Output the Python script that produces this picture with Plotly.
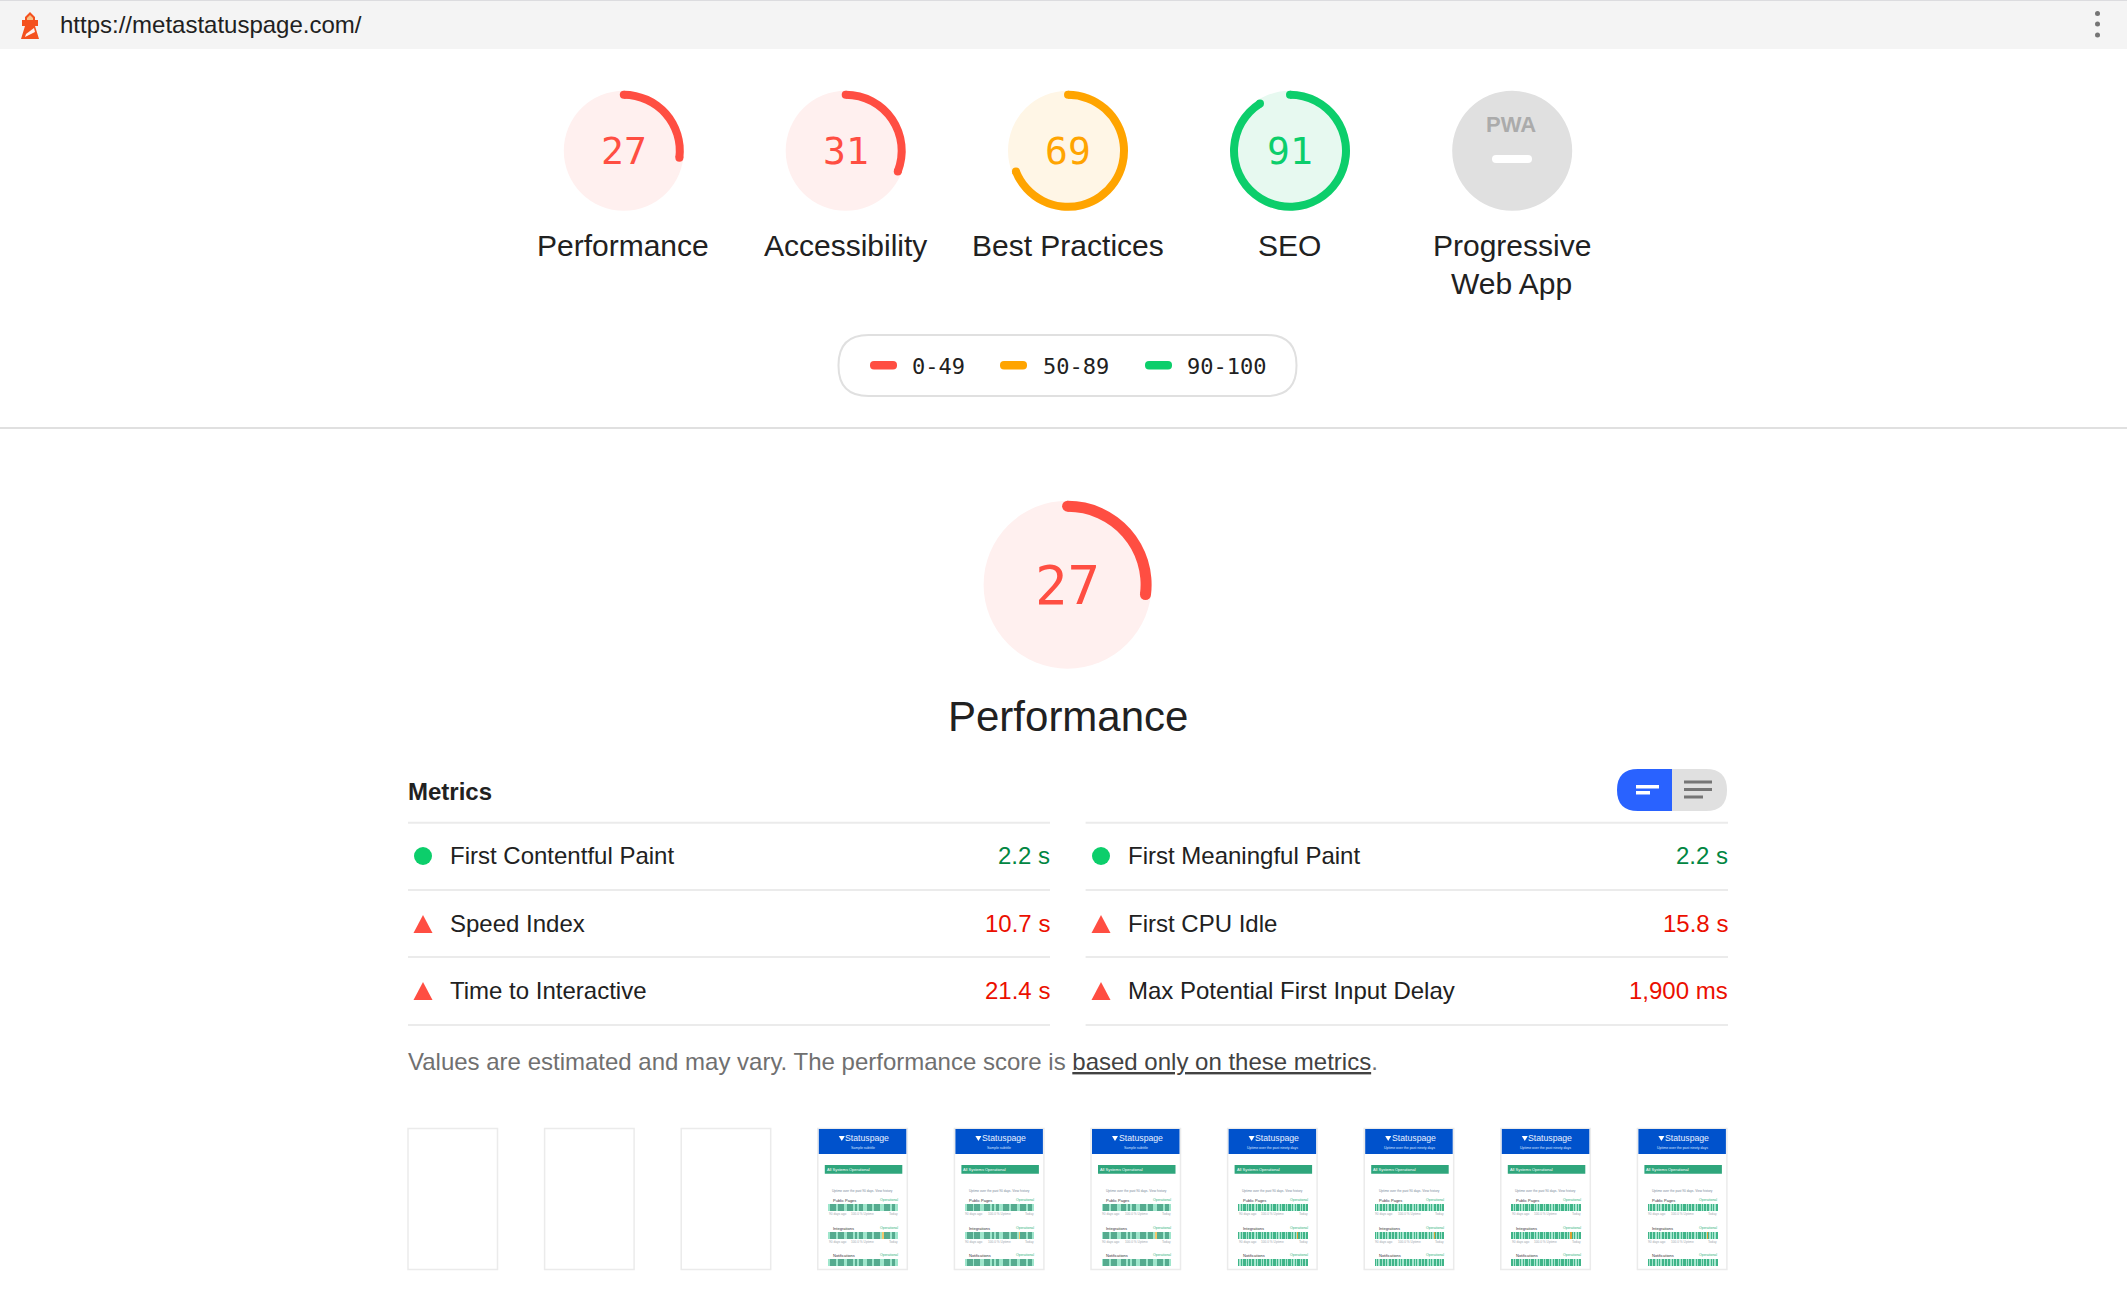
import plotly.graph_objects as go
import numpy as np

WIDTH = 2127
HEIGHT = 1300
SANS = 'Liberation Sans'
MONO = 'DejaVu Sans Mono'

RED = '#ff4e42'
ORANGE = '#ffa400'
GREEN = '#0cce6b'
LINE = '#ebebeb'

metrics = {
    'gauges': [
        {'name': 'Performance', 'score': 27, 'x': 623.8, 'color': RED, 'tint': '#fff0ef'},
        {'name': 'Accessibility', 'score': 31, 'x': 845.7, 'color': RED, 'tint': '#fff0ef'},
        {'name': 'Best Practices', 'score': 69, 'x': 1068, 'color': ORANGE, 'tint': '#fff6e6'},
        {'name': 'SEO', 'score': 91, 'x': 1290, 'color': GREEN, 'tint': '#e7f9f0'},
    ],
    'legend': [
        {'range': '0-49', 'x': 870, 'text_x': 912, 'color': RED},
        {'range': '50-89', 'x': 1000, 'text_x': 1043, 'color': ORANGE},
        {'range': '90-100', 'x': 1145, 'text_x': 1187, 'color': GREEN},
    ],
    'rows': [
        ('First Contentful Paint', '2.2 s', 'First Meaningful Paint', '2.2 s', 'pass'),
        ('Speed Index', '10.7 s', 'First CPU Idle', '15.8 s', 'fail'),
        ('Time to Interactive', '21.4 s', 'Max Potential First Input Delay', '1,900 ms', 'fail'),
    ],
    # 1 = dark band, 0 = light band
    'bands': [0, 1, 1, 1, 0, 1, 1, 1, 0, 0, 1, 1, 1, 0, 1, 0, 1, 1, 0, 0, 1, 1, 1, 0, 1, 1, 1, 0, 0, 1, 1, 1, 0, 1, 1, 0],
    'ticks': [1, 0, 1, 0, 1, 1, 0, 1, 0, 1, 0, 1, 1, 0, 1, 0, 1, 1, 0, 1, 0, 1, 0, 1, 1, 0, 1, 0, 1, 1, 0, 1, 0, 1, 0, 1,
              1, 0, 1, 0, 1, 1, 0, 1, 0, 1, 0, 1, 1, 0, 1, 0, 1, 0, 1],
}


# Function to write text at a pixel position
def add_text(fig, x, y, text, size, color='#212121', family=SANS, anchor='center'):
    fig.add_annotation(x=x, y=y, text=text, showarrow=False, xanchor=anchor, yanchor='middle',
                       font=dict(family=family, size=size, color=color), borderpad=0, borderwidth=0)


def rounded_path(x0, y0, x1, y1, left, right):
    return (f'M {x0 + left} {y0} L {x1 - right} {y0} Q {x1} {y0} {x1} {y0 + right} '
            f'L {x1} {y1 - right} Q {x1} {y1} {x1 - right} {y1} L {x0 + left} {y1} '
            f'Q {x0} {y1} {x0} {y1 - left} L {x0} {y0 + left} Q {x0} {y0} {x0 + left} {y0} Z')


def add_gauge(fig, x, y, radius, thickness, score, color, tint):
    fig.add_shape(type='circle', x0=x - radius, x1=x + radius, y0=y - radius, y1=y + radius,
                  fillcolor=tint, line_width=0, layer='below')
    fig.add_trace(go.Pie(values=[score, 100 - score], sort=False, direction='clockwise', rotation=0,
                         hole=1 - thickness / radius, textinfo='none', hoverinfo='skip',
                         marker=dict(colors=[color, 'rgba(0,0,0,0)'], line_width=0),
                         domain=dict(x=[(x - radius) / WIDTH, (x + radius) / WIDTH],
                                     y=[1 - (y + radius) / HEIGHT, 1 - (y - radius) / HEIGHT])))
    # Rounded ends of the arc
    angle = np.array([0, score / 100 * 2 * np.pi])
    middle = radius - thickness / 2
    fig.add_trace(go.Scatter(x=x + middle * np.sin(angle), y=y - middle * np.cos(angle), mode='markers',
                             marker=dict(size=thickness, color=color, line_width=0), hoverinfo='skip'))


# Function to draw the small screenshots at the bottom
def add_filmstrip(fig, metrics):
    for i in range(10):
        left = 408 + 136.6 * i
        fig.add_shape(type='rect', x0=left, x1=left + 89.5, y0=1128.5, y1=1269.5,
                      fillcolor='white', line=dict(color=LINE, width=1.5), layer='below')
        if i < 3:
            continue
        fig.add_shape(type='rect', x0=left + 1, x1=left + 88.5, y0=1129, y1=1154,
                      fillcolor='#0052cc', line_width=0, layer='below')
        fig.add_shape(type='rect', x0=left + 7, x1=left + 84.5, y0=1165, y1=1173.7,
                      fillcolor='#2fa67c', line_width=0, layer='below')
        add_text(fig, left + 49.5, 1138, 'Statuspage', 8.7, '#e8f0ff')
        fig.add_shape(type='path', path=f'M {left + 21} 1136 L {left + 27} 1136 L {left + 24} 1141 Z',
                      fillcolor='white', line_width=0, layer='below')
        if i < 6:
            add_text(fig, left + 45, 1147.7, 'Sample subtitle', 3.5, '#dde8ff')
        else:
            add_text(fig, left + 45, 1147.7, 'Uptime over the past ninety days', 3.5, '#dde8ff')
        add_text(fig, left + 9, 1169.5, 'All Systems Operational', 4, 'white', anchor='left')
        add_text(fig, left + 45, 1191, 'Uptime over the past 90 days. View history', 3.2, '#7a8a9a')
        for name, top in [('Public Pages', 1200.3), ('Integrations', 1228), ('Notifications', 1255.3)]:
            add_text(fig, left + 15, top, name, 4, '#333333', anchor='left')
            add_text(fig, left + 80, top, 'Operational', 3.5, '#36b37e', anchor='right')
            bar_top = top + 3.7
            pattern = metrics['bands'] if i < 6 else metrics['ticks']
            step = 69 / len(pattern)
            bar_x = left + 11 + step * (np.arange(len(pattern)) + 0.5)
            if i < 6:
                colors = ['#55ab8f' if v else '#9fe6cc' for v in pattern]
            else:
                colors = ['#3fb488' if v else '#a8e6cf' for v in pattern]
            if top == 1228:
                colors[28 if i < 6 else 47] = '#f2c66d' if i < 6 else '#e0a030'
            fig.add_trace(go.Bar(x=bar_x, y=[7] * len(pattern), base=bar_top, width=step, hoverinfo='skip',
                                 marker=dict(color=colors, line_width=0)))
            if top < 1250:
                add_text(fig, left + 11, top + 13.7, '90 days ago', 3.2, '#a0a8b0', anchor='left')
                add_text(fig, left + 45, top + 13.7, '100.0 % Uptime', 3.2, '#a0a8b0')
                add_text(fig, left + 80, top + 13.7, 'Today', 3.2, '#a0a8b0', anchor='right')


# Function to generate the whole report page
def generate_report_chart(metrics):
    fig = go.Figure()

    # Address bar
    fig.add_shape(type='rect', x0=0, x1=WIDTH, y0=0, y1=49, fillcolor='#f4f4f4', line_width=0)
    fig.add_shape(type='rect', x0=0, x1=WIDTH, y0=0, y1=1, fillcolor='#dcdcdf', line_width=0)
    add_text(fig, 60, 24.5, 'https://metastatuspage.com/', 24, '#212121', anchor='left')
    fig.add_shape(type='path', path='M 30 12 L 35 17 L 35 20 L 38 20 L 38 26 L 35 26 L 39 39 L 21 39 L 25 26 L 22 26 '
                                    'L 22 20 L 25 20 L 25 17 Z', fillcolor='#f4511e', line_width=0)
    fig.add_shape(type='path', path='M 30 15 L 33 18 L 33 20 L 27 20 L 27 18 Z', fillcolor='#f8c087', line_width=0)
    fig.add_shape(type='path', path='M 26 34 L 34 28 L 35 32 L 25 37 Z', fillcolor='#fff2ee', line_width=0)
    for dot_y in [13.5, 24, 35]:
        fig.add_shape(type='circle', x0=2095, x1=2100, y0=dot_y - 2.5, y1=dot_y + 2.5,
                      fillcolor='#757575', line_width=0)

    # Category gauges
    for gauge in metrics['gauges']:
        add_gauge(fig, gauge['x'], 150.8, 60, 8, gauge['score'], gauge['color'], gauge['tint'])
        add_text(fig, gauge['x'], 151, str(gauge['score']), 38, gauge['color'], MONO)
        add_text(fig, gauge['x'] - 0.5, 245.5, gauge['name'], 30)

    # PWA badge
    fig.add_shape(type='circle', x0=1452.2, x1=1572.2, y0=90.8, y1=210.8, fillcolor='#e0e0e0', line_width=0)
    add_text(fig, 1511, 124, '<b>PWA</b>', 22, '#ababab')
    fig.add_shape(type='path', path=rounded_path(1492, 155, 1532, 163, 4, 4), fillcolor='white', line_width=0)
    add_text(fig, 1511.8, 245.5, 'Progressive', 30)
    add_text(fig, 1511.8, 283.5, 'Web App', 30)

    # Score legend
    fig.add_shape(type='path', path=rounded_path(838.5, 335, 1296.5, 396, 30, 30),
                  fillcolor='white', line=dict(color='#e0e0e0', width=2))
    for item in metrics['legend']:
        fig.add_shape(type='path', path=rounded_path(item['x'], 361, item['x'] + 27, 369.5, 4, 4),
                      fillcolor=item['color'], line_width=0)
        add_text(fig, item['text_x'], 366, item['range'], 22, '#212121', MONO, 'left')

    fig.add_shape(type='rect', x0=0, x1=WIDTH, y0=427, y1=429, fillcolor='#e0e0e0', line_width=0)

    # Big performance gauge
    add_gauge(fig, 1067.6, 584.7, 84, 11, 27, RED, '#fff0ef')
    add_text(fig, 1067.6, 585, '27', 54, RED, MONO)
    add_text(fig, 1067.6, 716, 'Performance', 42)

    # Metrics header and toggle
    add_text(fig, 408, 791, '<b>Metrics</b>', 24, '#212121', anchor='left')
    fig.add_shape(type='path', path=f'M 1672 769 L 1638 769 Q 1617 769 1617 790 Q 1617 811 1638 811 L 1672 811 Z',
                  fillcolor='#2962ff', line_width=0)
    fig.add_shape(type='path', path=f'M 1672 769 L 1706 769 Q 1727 769 1727 790 Q 1727 811 1706 811 L 1672 811 Z',
                  fillcolor='#e0e0e0', line_width=0)
    for x1, y0 in [(1659, 785), (1650, 791)]:
        fig.add_shape(type='rect', x0=1636, x1=x1, y0=y0, y1=y0 + 3.5, fillcolor='white', line_width=0)
    for x1, y0 in [(1712, 780.5), (1712, 788), (1703, 795.5)]:
        fig.add_shape(type='rect', x0=1684, x1=x1, y0=y0, y1=y0 + 3, fillcolor='#757575', line_width=0)

    # Metric table
    for y0 in [822.7, 890, 957, 1025]:
        fig.add_shape(type='rect', x0=408, x1=1050, y0=y0 - 1, y1=y0 + 1, fillcolor=LINE, line_width=0)
        fig.add_shape(type='rect', x0=1085.6, x1=1728, y0=y0 - 1, y1=y0 + 1, fillcolor=LINE, line_width=0)
    for row, y in zip(metrics['rows'], [856, 924, 991]):
        for icon_x, text_x, value_x, label, value in [(423, 450, 1050, row[0], row[1]),
                                                      (1101, 1127.5, 1728, row[2], row[3])]:
            if row[4] == 'pass':
                fig.add_shape(type='circle', x0=icon_x - 9, x1=icon_x + 9, y0=y - 9, y1=y + 9,
                              fillcolor=GREEN, line_width=0)
            else:
                fig.add_shape(type='path', path=f'M {icon_x} {y - 9} L {icon_x + 9.5} {y + 9} L {icon_x - 9.5} {y + 9} Z',
                              fillcolor=RED, line_width=0)
            add_text(fig, text_x, y - 1, label, 24, '#212121', anchor='left')
            add_text(fig, value_x, y - 1, value, 24, '#018642' if row[4] == 'pass' else '#eb0f00', anchor='right')

    add_text(fig, 408, 1061,
             'Values are estimated and may vary. The performance score is '
             '<span style="color:#424242"><u>based only on these metrics</u></span>.',
             24, '#707070', anchor='left')

    add_filmstrip(fig, metrics)

    fig.update_layout(width=WIDTH, height=HEIGHT, margin=dict(l=0, r=0, t=0, b=0, pad=0),
                      paper_bgcolor='white', plot_bgcolor='white', showlegend=False,
                      barmode='overlay', bargap=0, hovermode=False,
                      xaxis=dict(range=[0, WIDTH], visible=False, fixedrange=True),
                      yaxis=dict(range=[HEIGHT, 0], visible=False, fixedrange=True))
    fig.write_html('out.html', post_script="document.body.style.margin='0';", config={'displayModeBar': False})

if __name__ == "__main__":
    generate_report_chart(metrics)
